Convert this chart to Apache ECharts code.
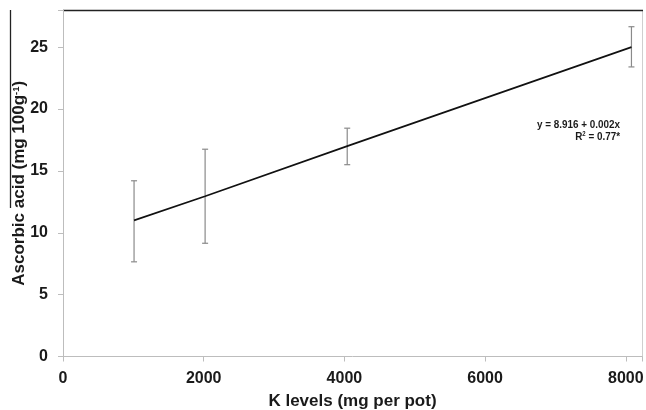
<!DOCTYPE html>
<html>
<head>
<meta charset="utf-8">
<style>
  html, body { margin: 0; padding: 0; background: #fff; }
  #chart { width: 646px; height: 410px; }
</style>
<script src="https://cdn.jsdelivr.net/npm/echarts@6/dist/echarts.min.js"></script>
</head>
<body>
<div id="chart"></div>
<script>
// K application levels (mg per pot)
var kLevels = [1010, 2020, 4040, 8080];
// Mean ascorbic acid content (mg 100g-1)
var ascorbic = [11.0, 12.95, 17.0, 25.0];
// Error bar bounds
var errLow = [7.65, 9.15, 15.5, 23.4];
var errHigh = [14.2, 16.75, 18.45, 26.65];

var xTicks = [0, 2000, 4000, 6000, 8000];
var yTicks = [0, 5, 10, 15, 20, 25];

var chart = echarts.init(document.getElementById('chart'), null, { renderer: 'canvas' });

var font = 'Liberation Sans, Arial, sans-serif';
var ink = '#1a1a1a';

var option = {
  animation: false,
  backgroundColor: '#fff',
  grid: { left: 63, right: 4, top: 10, bottom: 53.5, outerBoundsMode: 'none', containLabel: false },
  xAxis: {
    type: 'value',
    min: 0,
    max: 8230,
    interval: 2000,
    name: 'K levels (mg per pot)',
    nameLocation: 'middle',
    nameGap: 36,
    nameTextStyle: { fontFamily: font, fontWeight: 'bold', fontSize: 17, color: ink },
    axisLine: { lineStyle: { color: '#bdbdbd', width: 1 } },
    axisTick: { show: true, length: 5, lineStyle: { color: '#bdbdbd' } },
    axisLabel: {
      fontFamily: font, fontWeight: 'bold', fontSize: 16, color: ink, margin: 14,
      formatter: function (v) { return xTicks.indexOf(v) >= 0 ? String(v) : ''; }
    },
    splitLine: { show: false }
  },
  yAxis: {
    type: 'value',
    min: 0,
    max: 28,
    interval: 5,
    name: '{t|Ascorbic acid (mg 100g}{s|-1}{t|)}',
    nameLocation: 'middle',
    nameGap: 35,
    nameMoveOverlap: false,
    nameRotate: 90,
    nameTextStyle: {
      rich: {
        t: { fontFamily: font, fontWeight: 'bold', fontSize: 17, color: ink },
        s: { fontFamily: font, fontWeight: 'bold', fontSize: 9.5, color: ink, verticalAlign: 'top', padding: [0, 0, 7, 0] }
      }
    },
    axisLine: { show: true, lineStyle: { color: '#bdbdbd', width: 1 } },
    axisTick: { show: true, length: 5, lineStyle: { color: '#bdbdbd' } },
    axisLabel: {
      fontFamily: font, fontWeight: 'bold', fontSize: 16, color: ink, margin: 15,
      formatter: function (v) { return yTicks.indexOf(v) >= 0 ? String(v) : ''; }
    },
    splitLine: { show: false }
  },
  series: [
    {
      type: 'line',
      data: kLevels.map(function (k, i) { return [k, ascorbic[i]]; }),
      showSymbol: false,
      symbol: 'none',
      lineStyle: { color: '#111', width: 1.6 },
      z: 3
    },
    {
      type: 'custom',
      data: kLevels.map(function (k, i) { return [k, errLow[i], errHigh[i]]; }),
      renderItem: function (params, api) {
        var lo = api.coord([api.value(0), api.value(1)]);
        var hi = api.coord([api.value(0), api.value(2)]);
        var w = 3;
        var style = { stroke: '#8a8a8a', lineWidth: 1.2 };
        return {
          type: 'group',
          children: [
            { type: 'line', shape: { x1: lo[0], y1: lo[1], x2: hi[0], y2: hi[1] }, style: style },
            { type: 'line', shape: { x1: lo[0] - w, y1: lo[1], x2: lo[0] + w, y2: lo[1] }, style: style },
            { type: 'line', shape: { x1: hi[0] - w, y1: hi[1], x2: hi[0] + w, y2: hi[1] }, style: style }
          ]
        };
      },
      z: 2
    }
  ],
  graphic: [
    // frame: light right edge, dark top edge, dark left rule
    { type: 'line', shape: { x1: 642.5, y1: 10, x2: 642.5, y2: 357 }, style: { stroke: '#cfcfcf', lineWidth: 1 } },
    { type: 'line', shape: { x1: 63, y1: 10.5, x2: 643, y2: 10.5 }, style: { stroke: '#222', lineWidth: 1.5 } },
    { type: 'line', shape: { x1: 10.5, y1: 10, x2: 10.5, y2: 208 }, style: { stroke: '#222', lineWidth: 1.3 } },
    // regression annotation, right-aligned, slightly condensed
    {
      type: 'text', x: 620, y: 125, scaleX: 0.86,
      style: {
        text: 'y = 8.916 + 0.002x',
        font: 'bold 11.5px ' + font, fill: ink, align: 'right', verticalAlign: 'middle'
      }
    },
    {
      type: 'text', x: 620, y: 137, scaleX: 0.86,
      style: {
        text: '{t|R}{s|2}{t| = 0.77*}',
        align: 'right', verticalAlign: 'middle',
        rich: {
          t: { font: 'bold 11.5px ' + font, fill: ink },
          s: { font: 'bold 7px ' + font, fill: ink, verticalAlign: 'top' }
        }
      }
    }
  ]
};

chart.setOption(option);
</script>
</body>
</html>
